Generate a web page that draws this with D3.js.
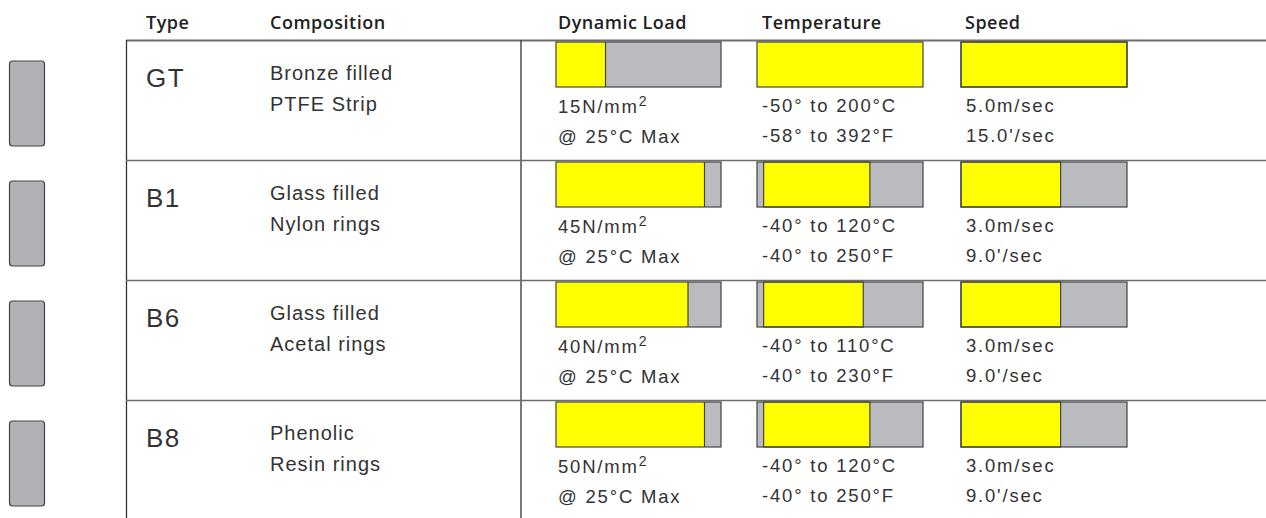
<!DOCTYPE html>
<html>
<head>
<meta charset="utf-8">
<script src="https://cdn.jsdelivr.net/npm/d3@7"></script>
<style>
  body { margin: 0; background: #fff; }
  svg { display: block; }
  .hdr { font-family: "Open Sans", sans-serif; font-weight: 600; font-size: 18px; letter-spacing: 0.5px; fill: #222; }
  .type { font-family: "Liberation Sans", Arial, sans-serif; font-size: 26px; letter-spacing: 1.5px; fill: #333; }
  .body { font-family: "Liberation Sans", Arial, sans-serif; font-size: 20px; letter-spacing: 1px; fill: #333; }
  .val { font-family: "Liberation Sans", Arial, sans-serif; font-size: 18.5px; letter-spacing: 1.8px; fill: #333; }
</style>
</head>
<body>
<svg width="1266" height="518"></svg>
<script>
// chart data
var types = ["GT", "B1", "B6", "B8"];
var compLine1 = ["Bronze filled", "Glass filled", "Glass filled", "Phenolic"];
var compLine2 = ["PTFE Strip", "Nylon rings", "Acetal rings", "Resin rings"];
var headers = ["Type", "Composition", "Dynamic Load", "Temperature", "Speed"];

// dynamic load (N/mm2) - bar fill
var loadBar = [15, 45, 40, 45];
var loadText = ["15", "45", "40", "50"];
// temperature range in °C (bar), plus labels
var tempMin = [-50, -40, -40, -40];
var tempMax = [200, 120, 110, 120];
var tempC = ["-50° to 200°C", "-40° to 120°C", "-40° to 110°C", "-40° to 120°C"];
var tempF = ["-58° to 392°F", "-40° to 250°F", "-40° to 230°F", "-40° to 250°F"];
// speed
var speedVal = [5.0, 3.0, 3.0, 3.0];
var speedM = ["5.0m/sec", "3.0m/sec", "3.0m/sec", "3.0m/sec"];
var speedFt = ["15.0'/sec", "9.0'/sec", "9.0'/sec", "9.0'/sec"];

var svg = d3.select("svg");
var yellow = "#ffff00", grey = "#b9bbbe", edge = "#444";

var rowY = d3.scaleBand().domain(types).range([40, 520]);
var xLoad = d3.scaleLinear().domain([0, 50]).range([556, 721]);
var xTemp = d3.scaleLinear().domain([-50, 200]).range([757, 923]);
var xSpeed = d3.scaleLinear().domain([0, 5]).range([961, 1127]);
var barTop = 2, barH = 45;

// headers
var hdrX = [146, 270, 558, 762, 965];
svg.selectAll(".hdr").data(headers).enter().append("text")
    .attr("class", "hdr")
    .attr("x", function(d, i) { return hdrX[i]; })
    .attr("y", 29)
    .text(function(d) { return d; });

// frame lines
var lineCol = "#6e6e6e";
svg.append("line").attr("x1", 126).attr("x2", 1266).attr("y1", 40.5).attr("y2", 40.5)
    .attr("stroke", lineCol).attr("stroke-width", 2);
svg.append("line").attr("x1", 126.5).attr("x2", 126.5).attr("y1", 40).attr("y2", 518)
    .attr("stroke", "#333").attr("stroke-width", 1.3);
svg.append("line").attr("x1", 521).attr("x2", 521).attr("y1", 40).attr("y2", 518)
    .attr("stroke", "#333").attr("stroke-width", 1.3);

var row = svg.selectAll(".row").data(types).enter().append("g")
    .attr("class", "row")
    .attr("transform", function(d) { return "translate(0," + rowY(d) + ")"; });

row.filter(function(d, i) { return i > 0; }).append("line")
    .attr("x1", 126).attr("x2", 1266).attr("y1", 0.5).attr("y2", 0.5)
    .attr("stroke", lineCol).attr("stroke-width", 1.6);

// side icons
row.append("rect")
    .attr("x", 9.5).attr("y", 21).attr("width", 35).attr("height", 85)
    .attr("rx", 3).attr("fill", "#b1b2b5").attr("stroke", "#444").attr("stroke-width", 1.2);

row.append("text").attr("class", "type").attr("x", 146).attr("y", 47)
    .text(function(d) { return d; });
row.append("text").attr("class", "body").attr("x", 270).attr("y", 40)
    .text(function(d, i) { return compLine1[i]; });
row.append("text").attr("class", "body").attr("x", 270).attr("y", 71)
    .text(function(d, i) { return compLine2[i]; });

function bgBar(sel, x) {
    sel.append("rect")
        .attr("x", x.range()[0]).attr("y", barTop)
        .attr("width", x.range()[1] - x.range()[0]).attr("height", barH)
        .attr("fill", grey);
}
function outline(sel, x) {
    sel.append("rect")
        .attr("x", x.range()[0]).attr("y", barTop)
        .attr("width", x.range()[1] - x.range()[0]).attr("height", barH)
        .attr("fill", "none").attr("stroke", edge).attr("stroke-width", 1.2);
}

// dynamic load
bgBar(row, xLoad);
row.append("rect")
    .attr("x", xLoad(0)).attr("y", barTop)
    .attr("width", function(d, i) { return xLoad(loadBar[i]) - xLoad(0); })
    .attr("height", barH).attr("fill", yellow);
row.append("line")
    .attr("x1", function(d, i) { return xLoad(loadBar[i]); })
    .attr("x2", function(d, i) { return xLoad(loadBar[i]); })
    .attr("y1", barTop).attr("y2", barTop + barH)
    .attr("stroke", function(d, i) { return loadBar[i] < 50 ? edge : "none"; }).attr("stroke-width", 1.2);
outline(row, xLoad);

// temperature
bgBar(row, xTemp);
row.append("rect")
    .attr("x", function(d, i) { return xTemp(tempMin[i]); }).attr("y", barTop)
    .attr("width", function(d, i) { return xTemp(tempMax[i]) - xTemp(tempMin[i]); })
    .attr("height", barH).attr("fill", yellow)
    .attr("stroke", function(d, i) { return tempMin[i] > -50 ? edge : "none"; }).attr("stroke-width", 1.2);
outline(row, xTemp);

// speed
bgBar(row, xSpeed);
row.append("rect")
    .attr("x", xSpeed(0)).attr("y", barTop)
    .attr("width", function(d, i) { return xSpeed(speedVal[i]) - xSpeed(0); })
    .attr("height", barH).attr("fill", yellow)
    .attr("stroke", edge).attr("stroke-width", 1.2);
outline(row, xSpeed);

// value labels
var l1 = row.append("text").attr("class", "val").attr("x", 558).attr("y", 73);
l1.append("tspan").text(function(d, i) { return loadText[i] + "N/mm"; });
l1.append("tspan").attr("dy", -7).attr("font-size", 14).text("2");
row.append("text").attr("class", "val").attr("x", 558).attr("y", 103).text("@ 25°C Max");

row.append("text").attr("class", "val").attr("x", 762).attr("y", 72)
    .text(function(d, i) { return tempC[i]; });
row.append("text").attr("class", "val").attr("x", 762).attr("y", 102)
    .text(function(d, i) { return tempF[i]; });

row.append("text").attr("class", "val").attr("x", 966).attr("y", 72)
    .text(function(d, i) { return speedM[i]; });
row.append("text").attr("class", "val").attr("x", 966).attr("y", 102)
    .text(function(d, i) { return speedFt[i]; });
</script>
</body>
</html>
